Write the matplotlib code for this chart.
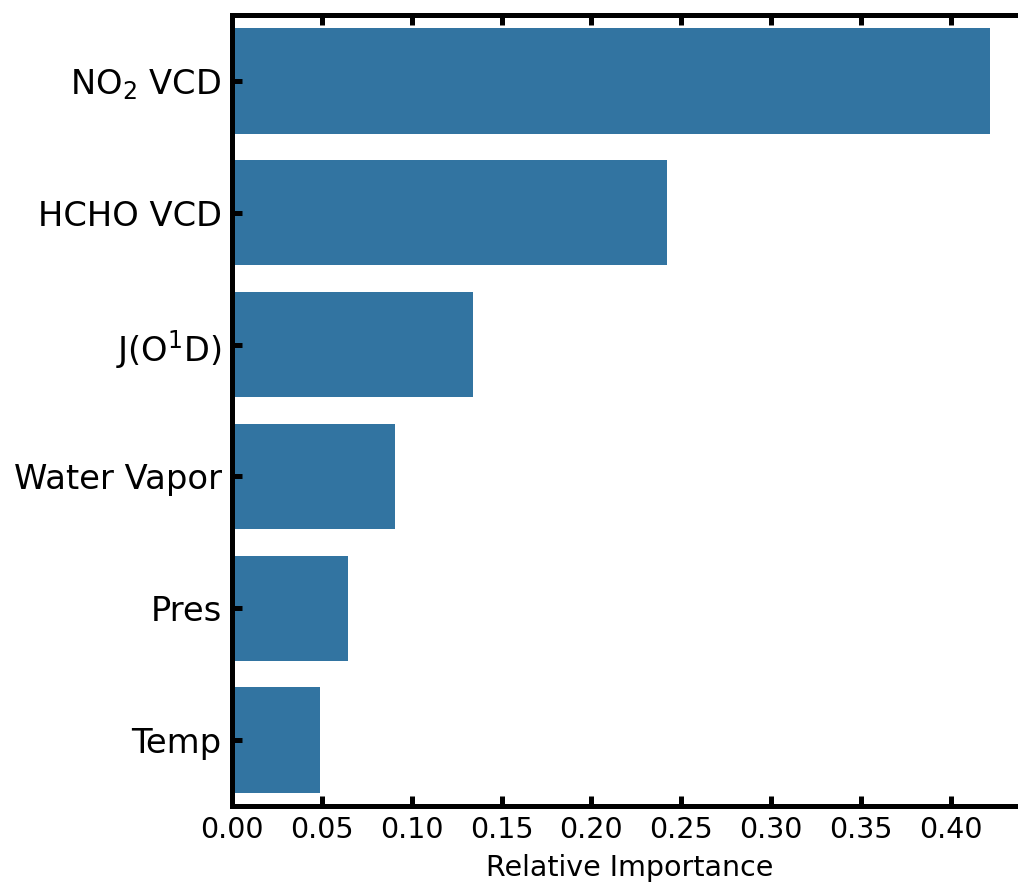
import matplotlib
matplotlib.use("Agg")
import matplotlib.pyplot as plt

features = ["NO$_2$ VCD", "HCHO VCD", "J(O$^1$D)", "Water Vapor", "Pres", "Temp"]
importance = [0.422, 0.242, 0.134, 0.0907, 0.0645, 0.049]

bar_color = "#3274a1"

fig = plt.figure(figsize=(10.18, 8.86), dpi=100)
# right edge of the axes runs slightly past the canvas, as in the reference
ax = fig.add_axes([232 / 1018, 1 - 806 / 886, (1028 - 232) / 1018, (806 - 15) / 886])

pos = list(range(len(features)))
ax.barh(pos, importance, height=0.8, color=bar_color, edgecolor="none")
ax.set_ylim(len(features) - 0.5, -0.5)
ax.set_xlim(0, 0.443)
ax.set_yticks(pos)
ax.set_yticklabels(features, fontsize=24.3)
ax.set_xticks([i * 0.05 for i in range(9)])
ax.set_xticklabels([f"{i * 0.05:.2f}" for i in range(9)], fontsize=20.5)
ax.set_xlabel("Relative Importance", fontsize=20.5, labelpad=7)

for sp in ax.spines.values():
    sp.set_linewidth(3.6)
ax.tick_params(axis="both", direction="in", length=7, width=3.6,
               top=True, right=True)
ax.tick_params(axis="y", pad=7.5)
ax.tick_params(axis="x", pad=7.5)

fig.savefig("out.png", dpi=100)
